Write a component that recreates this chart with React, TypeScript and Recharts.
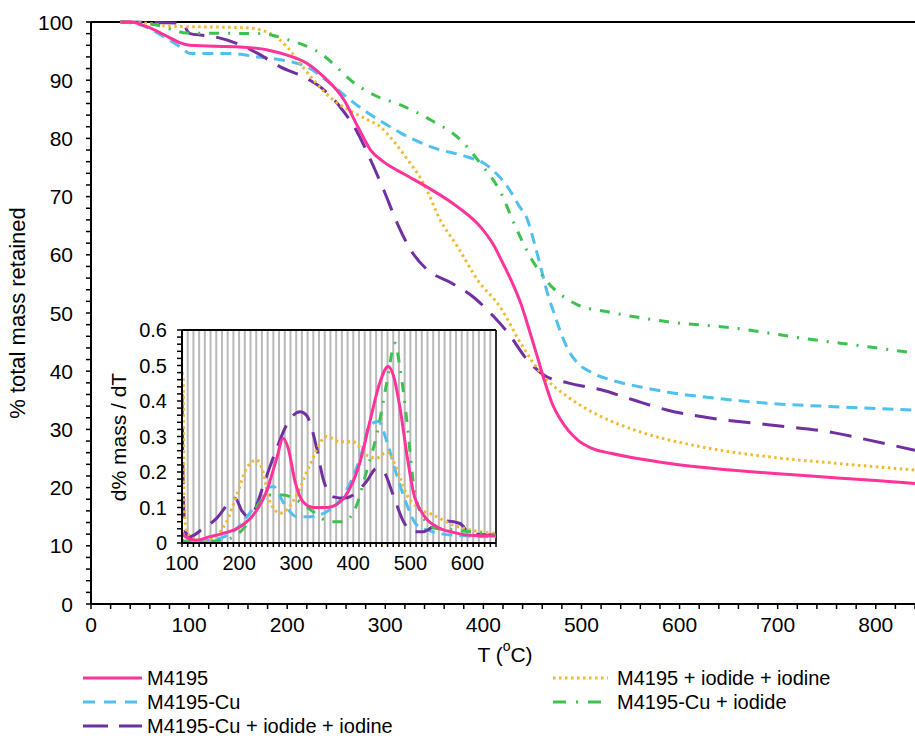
import React from 'react'
import { LineChart, Line, XAxis, YAxis, CartesianGrid, ReferenceLine } from 'recharts'

type Pt = [number, number]

// main TGA curves: [T (°C), % mass retained]
const m4195: Pt[] = [
  [30, 100], [40, 100], [57, 99.2], [78, 97.5], [91, 96.4], [101, 96], [152, 95.7], [180, 95.2],
  [200, 94.3], [220, 92.9], [237, 90.6], [258, 86.6], [272, 82], [285, 78], [298, 76], [320, 73.8],
  [343, 71.6], [374, 68.2], [397, 64.8], [410, 61.8], [420, 58.5], [430, 55], [438, 51.7], [446, 47.5],
  [455, 42.5], [462, 38.5], [470, 34.5], [479, 31.6], [496, 28.2], [510, 26.8], [530, 25.9], [560, 24.9],
  [588, 24.2], [640, 23.2], [690, 22.5], [758, 21.7], [800, 21.2], [840, 20.7],
]
const m4195Cu: Pt[] = [
  [30, 100], [50, 99.5], [74, 97.5], [91, 95.7], [101, 94.6], [142, 94.6], [170, 94], [193, 93.5],
  [220, 92.3], [247, 89], [265, 86.5], [282, 84.4], [300, 82.5], [316, 80.9], [349, 78.4], [384, 76.8],
  [401, 75.7], [413, 74], [425, 71.6], [436, 68.5], [445, 66], [452, 62], [459, 57.5], [466, 53],
  [472, 50], [479, 46.6], [487, 43.5], [496, 41.4], [510, 39.8], [530, 38.5], [560, 37.3], [588, 36.4],
  [640, 35.3], [690, 34.5], [758, 33.9], [800, 33.6], [840, 33.3],
]
const m4195CuII: Pt[] = [
  [30, 100], [94, 99.8], [98, 98.5], [101, 98], [125, 97.5], [149, 96.3], [170, 94.6], [193, 92.3],
  [220, 90.3], [234, 88.8], [254, 85.4], [272, 80.9], [285, 76.3], [298, 71.3], [312, 65.5], [326, 60.8],
  [343, 57.4], [367, 55.2], [390, 52.7], [411, 49.3], [425, 46.6], [445, 41.9], [462, 39.3], [486, 38],
  [520, 36.8], [554, 35], [588, 33.3], [622, 32.2], [690, 30.8], [758, 29.4], [792, 28.2], [840, 26.4],
]
const m4195II: Pt[] = [
  [30, 100], [57, 99.8], [78, 99.3], [159, 99], [183, 98], [200, 95.7], [213, 92.9], [227, 90],
  [247, 86.6], [268, 84.4], [282, 83.2], [295, 82], [305, 80.2], [323, 76.3], [339, 72.3], [356, 66],
  [374, 61.3], [394, 55.7], [418, 50.8], [438, 44.8], [462, 39], [486, 35.6], [520, 32.2], [554, 29.9],
  [622, 27], [690, 25.3], [758, 24.2], [840, 23],
]
const m4195CuI: Pt[] = [
  [30, 100], [67, 99.5], [84, 98.6], [98, 98.1], [173, 98], [200, 97], [234, 94.6], [270, 89.3],
  [288, 87.5], [316, 85.7], [346, 83.2], [377, 79.7], [397, 75.7], [418, 70.6], [431, 65.5], [448, 59.6],
  [466, 55.2], [480, 53], [496, 51.4], [527, 50.2], [588, 48.5], [656, 47.4], [724, 45.7], [792, 44.2],
  [840, 43.1],
]

// inset derivative curves: [T (°C), d% mass / dT]
const dM4195: Pt[] = [
  [100, 0.03], [102, 0.022], [126, 0.008], [149, 0.018], [172, 0.027], [202, 0.046], [225, 0.079],
  [248, 0.145], [266, 0.239], [277, 0.295], [286, 0.267], [298, 0.173], [312, 0.116], [330, 0.1],
  [353, 0.1], [377, 0.116], [394, 0.154], [412, 0.229], [429, 0.342], [447, 0.454], [461, 0.497],
  [470, 0.473], [482, 0.379], [494, 0.248], [505, 0.145], [523, 0.079], [546, 0.046], [575, 0.03],
  [604, 0.022], [650, 0.02],
]
const dM4195Cu: Pt[] = [
  [100, 0.01], [102, 0.005], [137, 0.006], [166, 0.013], [196, 0.041], [225, 0.098], [248, 0.154],
  [260, 0.159], [277, 0.116], [301, 0.074], [324, 0.074], [353, 0.088], [383, 0.135], [412, 0.239],
  [429, 0.332], [444, 0.342], [459, 0.285], [476, 0.192], [494, 0.107], [511, 0.051], [534, 0.034],
  [575, 0.022], [604, 0.02], [650, 0.017],
]
const dM4195CuII: Pt[] = [
  [100, 0.42], [103, 0.1], [106, 0.03], [114, 0.018], [137, 0.041], [161, 0.07], [184, 0.116],
  [193, 0.126], [205, 0.09], [215, 0.075], [228, 0.095], [242, 0.16], [266, 0.267], [283, 0.332],
  [307, 0.37], [318, 0.36], [336, 0.267], [347, 0.182], [365, 0.13], [383, 0.126], [400, 0.135],
  [423, 0.173], [441, 0.21], [453, 0.201], [470, 0.135], [488, 0.06], [505, 0.032], [523, 0.032],
  [540, 0.046], [564, 0.062], [587, 0.055], [604, 0.027], [650, 0.022],
]
const dM4195II: Pt[] = [
  [100, 0.48], [102, 0.47], [104, 0.1], [108, 0.032], [126, 0.01], [149, 0.012], [178, 0.06],
  [196, 0.135], [213, 0.21], [231, 0.234], [242, 0.201], [254, 0.116], [272, 0.084], [283, 0.093],
  [301, 0.135], [324, 0.22], [353, 0.3], [377, 0.285], [400, 0.285], [423, 0.248], [441, 0.239],
  [459, 0.257], [476, 0.21], [494, 0.135], [511, 0.102], [540, 0.079], [575, 0.051], [604, 0.037],
  [650, 0.027],
]
const dM4195CuI: Pt[] = [
  [100, 0.01], [102, 0.005], [149, 0.005], [184, 0.013], [213, 0.051], [237, 0.116], [254, 0.135],
  [277, 0.135], [301, 0.121], [330, 0.088], [359, 0.06], [383, 0.06], [406, 0.107], [423, 0.2],
  [441, 0.304], [459, 0.454], [473, 0.563], [482, 0.492], [494, 0.342], [505, 0.173], [523, 0.07],
  [546, 0.041], [575, 0.037], [604, 0.032], [650, 0.022],
]

const mainXTicks = Array.from({ length: 43 }, (_, i) => i * 20)
const mainYTicks = Array.from({ length: 51 }, (_, i) => i * 2)
const insetXTicks = Array.from({ length: 56 }, (_, i) => 100 + i * 10)
const insetYTicks = Array.from({ length: 31 }, (_, i) => (i * 2) / 100)

const FONT = '"Liberation Sans", Arial, Helvetica, sans-serif'

const series = [
  { name: 'M4195-Cu', color: '#4fc0f0', dash: '11 7', legendDash: '12 9', main: m4195Cu, deriv: dM4195Cu, col: 0, row: 1 },
  { name: 'M4195-Cu + iodide + iodine', color: '#7030a0', dash: '22 12', legendDash: '25 11', main: m4195CuII, deriv: dM4195CuII, col: 0, row: 2 },
  { name: 'M4195 + iodide + iodine', color: '#f2b92c', dash: '2.5 3.5', legendDash: '2.5 3.5', main: m4195II, deriv: dM4195II, col: 1, row: 0 },
  { name: 'M4195-Cu + iodide', color: '#3ec24f', dash: '10 9 2 9', legendDash: '13 10 2 10', main: m4195CuI, deriv: dM4195CuI, col: 1, row: 1 },
  { name: 'M4195', color: '#ff3399', dash: undefined, legendDash: undefined, main: m4195, deriv: dM4195, col: 0, row: 0 },
]

const rows = (pts: Pt[]) => pts.map(([t, v]) => ({ t, v }))

const axisLine = { stroke: '#000', strokeWidth: 2 }
const tickLine = { stroke: '#000', strokeWidth: 1.5 }

function MainXTick({ x, y, payload }: any) {
  if (payload.value % 100 !== 0) return <g />
  return (
    <text x={x} y={y} dy="0.71em" textAnchor="middle" fontSize={21} fill="#000" fontFamily={FONT}>
      {payload.value}
    </text>
  )
}

function MainYTick({ x, y, payload }: any) {
  if (payload.value % 10 !== 0) return <g />
  return (
    <text x={x} y={y} dy="0.36em" textAnchor="end" fontSize={21} fill="#000" fontFamily={FONT}>
      {payload.value}
    </text>
  )
}

function InsetXTick({ x, y, payload }: any) {
  if (payload.value % 100 !== 0) return <g />
  return (
    <text x={x} y={y} dy="0.71em" textAnchor="middle" fontSize={20} fill="#000" fontFamily={FONT}>
      {payload.value}
    </text>
  )
}

function InsetYTick({ x, y, payload }: any) {
  const hundredths = Math.round(payload.value * 100)
  if (hundredths % 10 !== 0) return <g />
  return (
    <text x={x} y={y} dy="0.36em" textAnchor="end" fontSize={20} fill="#000" fontFamily={FONT}>
      {hundredths === 0 ? '0' : (hundredths / 100).toFixed(1)}
    </text>
  )
}

function Inset() {
  return (
    <div style={{ position: 'absolute', left: 100, top: 300 }}>
      <LineChart width={398} height={280} margin={{ top: 30, right: 2, bottom: 0, left: 0 }}>
        <CartesianGrid horizontal={false} stroke="#b9b9b9" strokeWidth={2} />
        <XAxis
          dataKey="t" type="number" domain={[100, 650]} ticks={insetXTicks} interval={0}
          height={37} tickSize={4} tickMargin={9} tick={InsetXTick}
          axisLine={axisLine} tickLine={tickLine} allowDataOverflow
        />
        <YAxis
          type="number" domain={[0, 0.6]} ticks={insetYTicks} interval={0}
          width={82} tickSize={5} tickMargin={10} tick={InsetYTick}
          axisLine={axisLine} tickLine={tickLine} allowDataOverflow
          label={() => (
            <text x={18} y={137} transform="rotate(-90 18 137)" textAnchor="middle" dominantBaseline="central"
              fontSize={21} fill="#000" fontFamily={FONT}>
              d% mass / dT
            </text>
          )}
        />
        <ReferenceLine y={0.6} stroke="#000" strokeWidth={2} />
        <ReferenceLine x={650} stroke="#000" strokeWidth={1.5} />
        {series.map((s) => (
          <Line
            key={s.name} data={rows(s.deriv)} dataKey="v" type="monotone" stroke={s.color}
            strokeWidth={3} strokeDasharray={s.dash} dot={false} activeDot={false} isAnimationActive={false}
          />
        ))}
      </LineChart>
    </div>
  )
}

function LegendBlock() {
  const colX = [[83, 142, 147], [553, 608, 617]]
  const rowY = [678, 702, 726]
  return (
    <svg width={915} height={738} style={{ position: 'absolute', left: 0, top: 0, pointerEvents: 'none' }}>
      {series.map((s) => {
        const [x1, x2, tx] = colX[s.col]
        const y = rowY[s.row]
        return (
          <g key={s.name}>
            <line x1={x1} x2={x2} y1={y} y2={y} stroke={s.color} strokeWidth={3} strokeDasharray={s.legendDash} />
            <text x={tx} y={y} dy="0.36em" fontSize={20} fill="#000" fontFamily={FONT}>{s.name}</text>
          </g>
        )
      })}
    </svg>
  )
}

export default function App() {
  return (
    <div style={{ position: 'absolute', left: 0, top: 0, width: 915, height: 738, background: '#fff', fontFamily: FONT, overflow: 'hidden' }}>
      <LineChart width={915} height={738} margin={{ top: 22, right: 0, bottom: 0, left: 0 }}>
        <XAxis
          dataKey="t" type="number" domain={[0, 840]} ticks={mainXTicks} interval={0}
          height={134} tickSize={5} tickMargin={8} tick={MainXTick}
          axisLine={axisLine} tickLine={tickLine} allowDataOverflow
          label={() => (
            <text x={505} y={654} textAnchor="middle" dominantBaseline="central" fontSize={21} fill="#000" fontFamily={FONT}>
              <tspan>T (</tspan>
              <tspan fontSize={14} dy={-8}>o</tspan>
              <tspan dy={8}>C)</tspan>
            </text>
          )}
        />
        <YAxis
          type="number" domain={[0, 100]} ticks={mainYTicks} interval={0}
          width={91} tickSize={5} tickMargin={13} tick={MainYTick}
          axisLine={axisLine} tickLine={tickLine}
          label={() => (
            <text x={17} y={313} transform="rotate(-90 17 313)" textAnchor="middle" dominantBaseline="central"
              fontSize={22} fill="#000" fontFamily={FONT}>
              % total mass retained
            </text>
          )}
        />
        <ReferenceLine y={100} stroke="#000" strokeWidth={2} />
        {series.map((s) => (
          <Line
            key={s.name} data={rows(s.main)} dataKey="v" type="monotone" stroke={s.color}
            strokeWidth={3} strokeDasharray={s.dash} dot={false} activeDot={false} isAnimationActive={false}
          />
        ))}
      </LineChart>
      <Inset />
      <LegendBlock />
    </div>
  )
}
